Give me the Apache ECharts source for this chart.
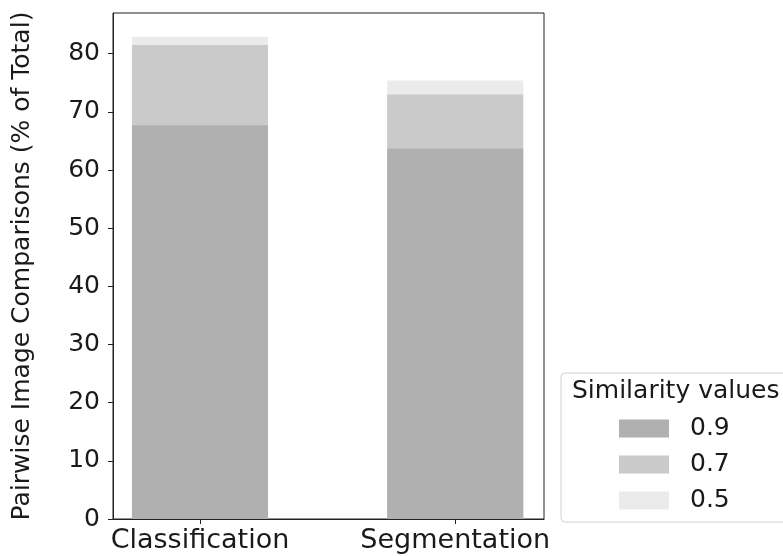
<!DOCTYPE html>
<html>
<head>
<meta charset="utf-8">
<title>Pairwise Image Comparisons</title>
<script src="https://cdn.jsdelivr.net/npm/echarts@6/dist/echarts.min.js"></script>
<style>
  html, body { margin: 0; padding: 0; background: #fff; }
  #chart { width: 783px; height: 556px; }
</style>
</head>
<body>
<div id="chart"></div>
<script>
// Task categories along the x axis (placed at 0 and 1 on a numeric axis)
const categories = ['Classification', 'Segmentation'];
const categoryPositions = [0, 1];

// Share of pairwise comparisons above each similarity threshold (%)
const sim09 = [67.7, 63.7];
const sim07 = [81.5, 73.0];
const sim05 = [82.9, 75.4];

const seriesNames = ['0.9', '0.7', '0.5'];
const yTicks = [0, 10, 20, 30, 40, 50, 60, 70, 80];

const FONT = 'DejaVu Sans';
const TEXT = '#1a1a1a';

function pairs(values) {
  return values.map((v, i) => [categoryPositions[i], v]);
}

const chart = echarts.init(document.getElementById('chart'), null, { renderer: 'canvas' });

const barCommon = {
  type: 'bar',
  barWidth: 136,
  barGap: '-100%',
  animation: false
};

chart.setOption({
  backgroundColor: '#ffffff',
  animation: false,
  grid: {
    left: 113, right: 239, top: 13, bottom: 37,
    show: true, borderColor: '#222', borderWidth: 1, backgroundColor: 'transparent'
  },
  xAxis: {
    type: 'value',
    min: -0.3406,
    max: 1.3477,
    axisLine: { show: true, onZero: false, lineStyle: { color: '#222', width: 1 } },
    axisTick: { show: true, inside: false, length: 5, lineStyle: { color: '#222', width: 1 }, customValues: categoryPositions },
    axisLabel: {
      customValues: categoryPositions,
      formatter: v => categories[Math.round(v)],
      color: TEXT, fontFamily: FONT, fontSize: 27, margin: 8
    },
    splitLine: { show: false }
  },
  yAxis: {
    type: 'value',
    min: 0,
    max: 87,
    name: 'Pairwise Image Comparisons (% of Total)',
    nameLocation: 'middle',
    nameGap: 78,
    nameTextStyle: { color: TEXT, fontFamily: FONT, fontSize: 25 },
    axisLine: { show: true, onZero: false, lineStyle: { color: '#222', width: 1 } },
    axisTick: { show: true, length: 5, lineStyle: { color: '#222' }, customValues: yTicks },
    axisLabel: { customValues: yTicks, color: TEXT, fontFamily: FONT, fontSize: 25, margin: 13 },
    splitLine: { show: false }
  },
  legend: {
    data: seriesNames,
    orient: 'vertical',
    left: 614,
    top: 411,
    itemWidth: 50,
    itemHeight: 18,
    itemGap: 11,
    icon: 'rect',
    textStyle: { color: TEXT, fontFamily: FONT, fontSize: 25, padding: [0, 0, 0, 16] },
    selectedMode: false
  },
  graphic: [
    {
      type: 'rect',
      z: -1,
      shape: { x: 561, y: 373, width: 240, height: 149, r: 4 },
      style: { fill: '#fff', stroke: '#d0d0d0', lineWidth: 1 }
    },
    {
      type: 'text',
      left: 572,
      top: 379,
      style: { text: 'Similarity values', fill: TEXT, font: '25px "DejaVu Sans"' }
    }
  ],
  series: [
    Object.assign({ name: '0.5', data: pairs(sim05), itemStyle: { color: '#ebebeb' } }, barCommon),
    Object.assign({ name: '0.7', data: pairs(sim07), itemStyle: { color: '#cacaca' } }, barCommon),
    Object.assign({ name: '0.9', data: pairs(sim09), itemStyle: { color: '#b0b0b0' } }, barCommon)
  ]
});
</script>
</body>
</html>
